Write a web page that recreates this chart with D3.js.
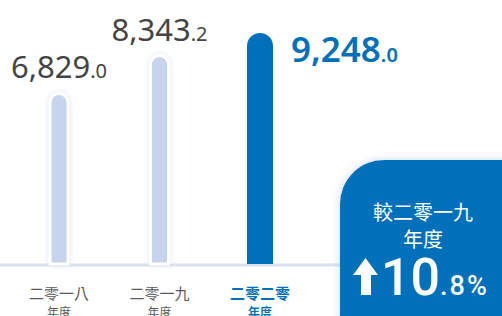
<!DOCTYPE html>
<html>
<head>
<meta charset="utf-8">
<script src="https://cdn.jsdelivr.net/npm/d3@7"></script>
<style>
  body { margin: 0; background: #fff; overflow: hidden; }
  svg { display: block; }
</style>
</head>
<body>
<script>
// Data
var years = ["二零一八", "二零一九", "二零二零"];
var values = [6829.0, 8343.2, 9248.0];
var changeLabel = ["較二零一九", "年度"];
var changePct = 10.8;

var svgWidth = 502;
var svgHeight = 316;
var baseY = 264;

var svg = d3.select("body")
  .append("svg")
  .attr("width", svgWidth)
  .attr("height", svgHeight);

var defs = svg.append("defs");
var glow = defs.append("filter").attr("id", "glow")
  .attr("x", "-60%").attr("y", "-20%").attr("width", "220%").attr("height", "140%");
glow.append("feDropShadow").attr("dx", 0).attr("dy", 0).attr("stdDeviation", 3)
  .attr("flood-color", "#c8d5ee").attr("flood-opacity", 0.6);
var boxShadow = defs.append("filter").attr("id", "boxShadow")
  .attr("x", "-20%").attr("y", "-20%").attr("width", "140%").attr("height", "140%");
boxShadow.append("feDropShadow").attr("dx", 0).attr("dy", 0).attr("stdDeviation", 5)
  .attr("flood-color", "#9fb3d8").attr("flood-opacity", 0.5);

var xScale = d3.scalePoint()
  .domain(years)
  .range([59, 260]);

var yScale = d3.scaleLinear()
  .domain([0, 9248])
  .range([baseY, 33]);

// baseline
svg.append("line")
  .attr("x1", 0).attr("x2", 345)
  .attr("y1", baseY + 1).attr("y2", baseY + 1)
  .attr("stroke", "#d9e1f2")
  .attr("stroke-width", 3);

function barPath(cx, w, top, bottom) {
  var r = w / 2;
  var x0 = cx - r, x1 = cx + r;
  return "M" + x0 + "," + bottom +
    "L" + x0 + "," + (top + r) +
    "A" + r + "," + r + " 0 0 1 " + x1 + "," + (top + r) +
    "L" + x1 + "," + bottom + "Z";
}

var last = years.length - 1;

svg.selectAll(".bar")
  .data(values)
  .enter()
  .append("path")
  .attr("class", "bar")
  .attr("d", (d, i) => barPath(xScale(years[i]), i === last ? 26 : 18, yScale(d), baseY))
  .attr("fill", (d, i) => i === last ? "#0070bb" : "#c6d4ee")
  .attr("stroke", (d, i) => i === last ? "none" : "#fff")
  .attr("stroke-width", 3)
  .attr("filter", (d, i) => i === last ? null : "url(#glow)");

// value labels
var fmt = d3.format(",");
var labels = svg.selectAll(".val")
  .data(values)
  .enter()
  .append("text")
  .attr("class", "val")
  .attr("x", (d, i) => i === last ? 291 : xScale(years[i]))
  .attr("y", (d, i) => i === last ? 62 : yScale(d) - 15)
  .attr("text-anchor", (d, i) => i === last ? "start" : "middle")
  .attr("font-family", "'Noto Sans', sans-serif")
  .attr("fill", (d, i) => i === last ? "#0070bb" : "#444")
  .attr("font-weight", (d, i) => i === last ? 600 : "normal");

labels.append("tspan")
  .attr("font-size", (d, i) => i === last ? 35 : 31)
  .text(d => fmt(Math.floor(d)));
labels.append("tspan")
  .attr("font-size", 20)
  .text(d => "." + Math.round((d - Math.floor(d)) * 10));

// category labels
var cats = svg.selectAll(".cat")
  .data(years)
  .enter()
  .append("g")
  .attr("class", "cat")
  .attr("font-family", "'Noto Sans CJK TC', sans-serif")
  .attr("text-anchor", "middle")
  .attr("fill", (d, i) => i === last ? "#0070bb" : "#5a5a5a")
  .attr("font-weight", (d, i) => i === last ? "bold" : "normal");

cats.append("text")
  .attr("x", d => xScale(d))
  .attr("y", 299)
  .attr("font-size", 15)
  .text(d => d);
cats.append("text")
  .attr("x", d => xScale(d))
  .attr("y", 317)
  .attr("font-size", 12)
  .text("年度");

// change box
var bx = 340, by = 160, rr = 44;
svg.append("path")
  .attr("d", "M" + bx + "," + (svgHeight + 10) +
    "L" + bx + "," + (by + rr) +
    "A" + rr + "," + rr + " 0 0 1 " + (bx + rr) + "," + by +
    "L" + (svgWidth + 10) + "," + by +
    "L" + (svgWidth + 10) + "," + (svgHeight + 10) + "Z")
  .attr("fill", "#0070bb")
  .attr("filter", "url(#boxShadow)");

svg.selectAll(".chg")
  .data(changeLabel)
  .enter()
  .append("text")
  .attr("x", 423)
  .attr("y", (d, i) => 220 + i * 27)
  .attr("text-anchor", "middle")
  .attr("font-family", "'Noto Sans CJK TC', sans-serif")
  .attr("font-size", 20)
  .attr("fill", "#fff")
  .text(d => d);

// arrow
svg.append("path")
  .attr("d", "M365.5,258 L378,275 L371,275 L371,295 L361,295 L361,275 L353,275 Z")
  .attr("fill", "#fff");

var pct = svg.append("text")
  .attr("x", 381)
  .attr("y", 295)
  .attr("font-family", "Roboto, sans-serif")
  .attr("font-weight", 500)
  .attr("fill", "#fff");
pct.append("tspan").attr("font-size", 52).text(Math.floor(changePct));
pct.append("tspan").attr("font-size", 27).attr("letter-spacing", 2)
  .text("." + Math.round((changePct % 1) * 10) + "%");
</script>
</body>
</html>
